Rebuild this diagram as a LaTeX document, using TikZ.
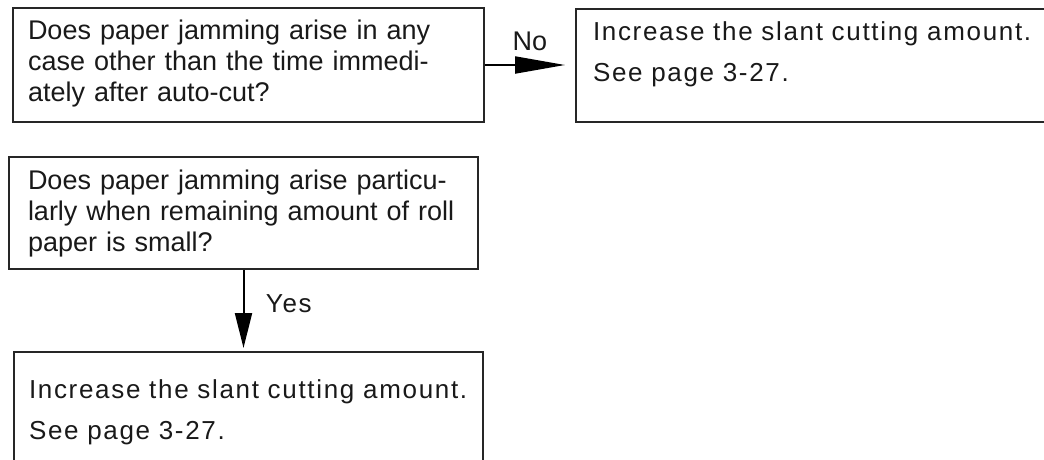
\documentclass[tikz,border=0pt]{standalone}
\usepackage{fontspec}
\setmainfont{Liberation Sans}
\newfontfamily\spacedfont[LetterSpace=6.5]{Liberation Sans}
\usetikzlibrary{arrows.meta,calc}

\newcommand{\fullline}[2]{\makebox[#1][s]{#2}}

\begin{document}
\begin{tikzpicture}[x=1pt, y=-1pt,
    frame/.style={draw=black!85, line width=2pt, anchor=north west, inner ysep=0pt, align=left, text=black!90},
    qtext/.style={font=\fontsize{27}{31}\selectfont},
    atext/.style={font=\spacedfont\fontsize{26}{41}\selectfont},
    flow/.style={draw=black, line width=2pt, shorten >=#1}]

    % --- Rahmen ---
    \useasboundingbox (0,0) rectangle (1044,459);
    \clip (0,0) rectangle (1044,459);

    % --- Fragen ---
    \node[frame, qtext, inner xsep=15pt, text width=441pt, text height=31pt, text depth=83pt] (jam) at (12,7)
        {\fullline{418pt}{Does paper jamming arise in any}\\
         \fullline{418pt}{case other than the time immedi-}\\
         ately after auto-cut?};
    \node[frame, qtext, inner xsep=19pt, text width=431pt, text height=32pt, text depth=80pt] (roll) at (8,156)
        {\fullline{420pt}{Does paper jamming arise particu-}\\
         \fullline{420pt}{larly when remaining amount of roll}\\
         paper is small?};

    % --- Abhilfe ---
    \node[frame, atext, inner xsep=17pt, text width=461pt, text height=31pt, text depth=82pt] (slant) at (575,8)
        {Increase the slant cutting amount.\\ See page 3-27.};
    \node[frame, atext, inner xsep=15pt, text width=439pt, text height=46pt, text depth=120pt] (slantb) at (13,351)
        {Increase the slant cutting amount.\\ See page 3-27.};

    % --- Pfeile ---
    \draw[flow=10pt, -{Triangle[length=50pt,width=17pt]}] (jam.east) -- (jam.east -| slant.west)
        node[midway, above=10pt, qtext, text=black!90] (no) {No};
    \draw[flow=3pt, -{Triangle[length=35pt,width=17pt]}] (roll.south) -- (roll.south |- slantb.north)
        node[midway, right=18pt, yshift=7pt, atext, text=black!90] (yes) {Yes};

\end{tikzpicture}
\end{document}
